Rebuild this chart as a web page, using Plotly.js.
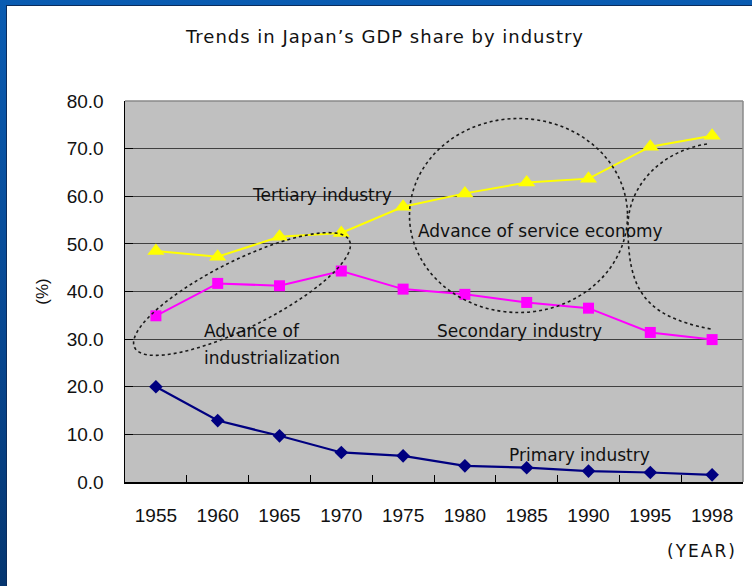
<!DOCTYPE html>
<html>
<head>
<meta charset="utf-8">
<script src="https://cdn.plot.ly/plotly-3.0.1.min.js"></script>
<style>
  html, body { margin: 0; padding: 0; width: 752px; height: 586px; overflow: hidden;
    background: linear-gradient(to bottom, #0a5cb2 0%, #07468f 60%, #053670 100%); }
  #card { position: absolute; left: 6px; top: 5px; width: 746px; height: 581px; background: #ffffff;
    border-left: 1px solid #0b2c5c; border-top: 1px solid #0b2c5c; box-sizing: border-box; }
  #chart { position: absolute; left: 0; top: 0; width: 746px; height: 581px; }
</style>
</head>
<body>
<div id="card"><div id="chart"></div></div>
<script>
// ---- data ----
const years = ['1955', '1960', '1965', '1970', '1975', '1980', '1985', '1990', '1995', '1998'];
const tertiary = [48.5, 47.3, 51.5, 52.3, 57.8, 60.6, 62.9, 63.7, 70.4, 72.7];
const secondary = [34.9, 41.7, 41.2, 44.3, 40.5, 39.4, 37.7, 36.5, 31.4, 29.9];
const primary = [20.0, 12.9, 9.7, 6.2, 5.5, 3.4, 3.0, 2.3, 2.0, 1.5];
const yTicks = [0, 10, 20, 30, 40, 50, 60, 70, 80];

const chartTitle = 'Trends in Japan’s GDP share by industry';
const yTitle = '(%)';
const xTitle = '(YEAR)';

// ---- layout geometry (page pixels) ----
const W = 746, H = 581, OX = 6, OY = 5;
const M = { l: 118, r: 10, t: 95, b: 105 };
const PL = OX + M.l, PR = OX + W - M.r, PT = OY + M.t, PB = OY + H - M.b;
const px = x => (x - PL) / (PR - PL);
const py = y => (PB - y) / (PB - PT);

// rotated ellipse path (pixel space -> paper)
function ellipsePath(cx, cy, a, b, deg, n) {
  const t = deg * Math.PI / 180, c = Math.cos(t), s = Math.sin(t);
  let d = '';
  for (let i = 0; i <= n; i++) {
    const u = 2 * Math.PI * i / n;
    const ex = a * Math.cos(u), ey = b * Math.sin(u);
    const x = cx + ex * c + ey * s;
    const y = cy - ex * s + ey * c;
    d += (i === 0 ? 'M' : 'L') + px(x).toFixed(5) + ',' + py(y).toFixed(5);
  }
  return d + 'Z';
}
function P(x, y) { return px(x).toFixed(5) + ',' + py(y).toFixed(5); }

const dotLine = { color: '#1a1a1a', width: 1.6, dash: 'dot' };

const traces = [
  { x: years, y: tertiary, type: 'scatter', mode: 'lines+markers', name: 'Tertiary industry',
    line: { color: '#FFFF00', width: 2 },
    marker: { symbol: 'triangle-up', size: 15, color: '#FFFF00' } },
  { x: years, y: secondary, type: 'scatter', mode: 'lines+markers', name: 'Secondary industry',
    line: { color: '#FF00FF', width: 2 },
    marker: { symbol: 'square', size: 11, color: '#FF00FF' } },
  { x: years, y: primary, type: 'scatter', mode: 'lines+markers', name: 'Primary industry',
    line: { color: '#000080', width: 2.2 },
    marker: { symbol: 'diamond', size: 10.5, color: '#000080' } }
];

const tickFont = { family: 'Liberation Sans, Arial, sans-serif', size: 19, color: '#111111' };
const annFont = { family: 'DejaVu Sans, sans-serif', size: 17, color: '#111111' };

const layout = {
  width: W, height: H,
  margin: M,
  paper_bgcolor: '#ffffff',
  plot_bgcolor: '#C0C0C0',
  showlegend: false,
  title: {
    text: '<span style="letter-spacing:1px">' + chartTitle + '</span>',
    font: { family: 'DejaVu Sans, sans-serif', size: 18, color: '#111111' },
    xref: 'container', yref: 'container', x: 0.5067, y: 0.9466,
    xanchor: 'center', yanchor: 'middle'
  },
  xaxis: {
    type: 'category', categoryorder: 'array', categoryarray: years,
    range: [-0.5, years.length - 0.5],
    showgrid: false, zeroline: false,
    showline: true, linecolor: '#000000', linewidth: 1.5,
    ticks: 'inside', tickson: 'boundaries', ticklen: 7, tickcolor: '#000000', tickwidth: 1,
    tickfont: tickFont, ticklabelstandoff: 16
  },
  yaxis: {
    range: [0, 80], tickvals: yTicks, tickformat: '.1f',
    showgrid: true, gridcolor: '#404040', gridwidth: 1,
    zeroline: false,
    showline: true, linecolor: '#000000', linewidth: 1.5,
    ticks: 'inside', ticklen: 8, tickcolor: '#000000', tickwidth: 1,
    tickfont: tickFont, ticklabelstandoff: 16,
    title: { text: yTitle, font: { family: 'Liberation Sans, Arial, sans-serif', size: 17, color: '#111111' }, standoff: 14 }
  },
  shapes: [
    // top and right frame edges
    { type: 'line', xref: 'paper', yref: 'paper', x0: 0, x1: 1, y0: 1, y1: 1, line: { color: '#8a8a8a', width: 1.5 } },
    { type: 'line', xref: 'paper', yref: 'paper', x0: 1, x1: 1, y0: 0, y1: 1, line: { color: '#8a8a8a', width: 1.5 } },
    // Advance of industrialization ellipse
    { type: 'path', xref: 'paper', yref: 'paper', path: ellipsePath(241, 293, 120, 33.5, 26.5, 120), line: dotLine },
    // Advance of service economy circle
    { type: 'circle', xref: 'paper', yref: 'paper', x0: px(408.5), x1: px(626.5), y0: py(311.5), y1: py(117.5), line: dotLine },
    // bracket arc on the right
    { type: 'path', xref: 'paper', yref: 'paper',
      path: 'M' + P(706, 143) + 'C' + P(660, 150) + ' ' + P(627, 185) + ' ' + P(627, 225) +
            'C' + P(627, 285) + ' ' + P(640, 315) + ' ' + P(710, 328),
      line: dotLine }
  ],
  annotations: [
    { text: 'Tertiary industry', xref: 'paper', yref: 'paper', x: px(249), y: py(193.5), xanchor: 'left', yanchor: 'middle', showarrow: false, font: annFont },
    { text: 'Advance of service economy', xref: 'paper', yref: 'paper', x: px(415), y: py(229.5), xanchor: 'left', yanchor: 'middle', showarrow: false, font: annFont },
    { text: 'Secondary industry', xref: 'paper', yref: 'paper', x: px(434), y: py(330), xanchor: 'left', yanchor: 'middle', showarrow: false, font: annFont },
    { text: 'Primary industry', xref: 'paper', yref: 'paper', x: px(506), y: py(453.5), xanchor: 'left', yanchor: 'middle', showarrow: false, font: annFont },
    { text: 'Advance of', xref: 'paper', yref: 'paper', x: px(200.5), y: py(330), xanchor: 'left', yanchor: 'middle', showarrow: false, font: annFont },
    { text: 'industrialization', xref: 'paper', yref: 'paper', x: px(200.5), y: py(356.5), xanchor: 'left', yanchor: 'middle', showarrow: false, font: annFont },
    { text: '<span style="letter-spacing:2px">' + xTitle + '</span>', xref: 'paper', yref: 'paper', x: px(738), y: py(550), xanchor: 'right', yanchor: 'middle', showarrow: false,
      font: { family: 'DejaVu Sans, sans-serif', size: 17, color: '#111111' } }
  ]
};

Plotly.newPlot('chart', traces, layout, { staticPlot: true, displayModeBar: false });
</script>
</body>
</html>
